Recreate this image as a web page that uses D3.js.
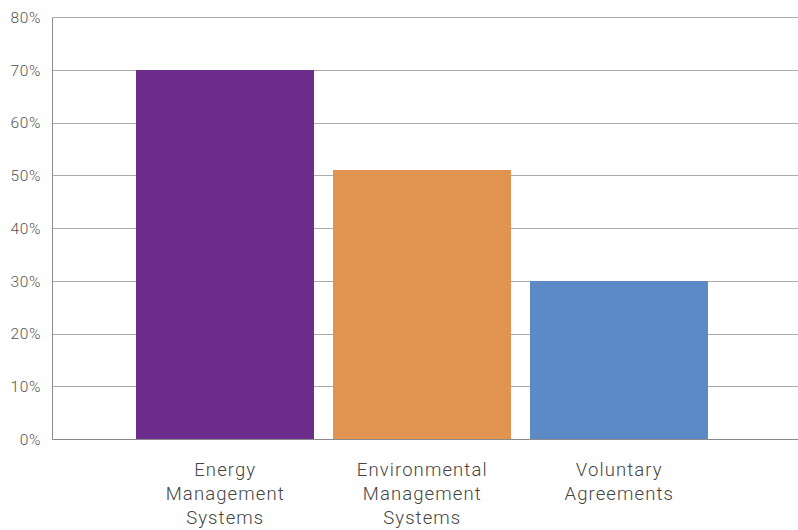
<!DOCTYPE html>
<html><head><meta charset="utf-8">
<script src="https://cdn.jsdelivr.net/npm/d3@7"></script>
<style>body{margin:0;background:#fff;}svg{display:block;font-family:Roboto,"DejaVu Sans",sans-serif;}</style>
</head><body><svg id="c" width="798" height="530"></svg>
<script>
const categories = [["Energy","Management","Systems"],["Environmental","Management","Systems"],["Voluntary","Agreements"]];
const values = [0.70, 0.51, 0.30];
const colors = ["#6c2c8c", "#e09450", "#5b8ac6"];
const tickValues = [0,0.1,0.2,0.3,0.4,0.5,0.6,0.7,0.8];

(function(){
const svg = d3.select("#c");
const pL = 52.5, pR = 798, pT = 17.5, pB = 439.5;
const keys = categories.map((d,i)=>i);
const x = d3.scaleBand().domain(keys).range([pL - 3, pR - 3]).paddingInner(0.096).paddingOuter(0.44);
const y = d3.scaleLinear().domain([0,0.8]).range([pB, pT]);

svg.append("g").selectAll("line").data(tickValues).join("line")
  .attr("x1", pL).attr("x2", pR)
  .attr("y1", d=>Math.floor(y(d))+0.5).attr("y2", d=>Math.floor(y(d))+0.5)
  .attr("stroke", "#ababab").attr("stroke-width", 1);

svg.append("g").selectAll("rect").data(values).join("rect")
  .attr("x", (d,i)=>Math.round(x(i))).attr("width", Math.round(x.bandwidth()))
  .attr("y", d=>Math.floor(y(d))).attr("height", d=>Math.floor(pB)-Math.floor(y(d)))
  .attr("fill", (d,i)=>colors[i]);

svg.append("line").attr("x1", pL).attr("x2", pR).attr("y1", pB).attr("y2", pB)
  .attr("stroke", "#8a8a8a").attr("stroke-width", 1);
svg.append("line").attr("x1", pL).attr("x2", pL).attr("y1", pT).attr("y2", pB)
  .attr("stroke", "#8a8a8a").attr("stroke-width", 1);

svg.append("g").selectAll("text").data(tickValues).join("text")
  .attr("x", 41).attr("y", d=>y(d)).attr("dy", "0.35em")
  .attr("text-anchor", "end").attr("fill", "#555").attr("font-size", 15.5).attr("font-weight", 300)
  .attr("letter-spacing", 0.6)
  .text(d=>d3.format(".0%")(d));

const lab = svg.append("g").selectAll("text").data(categories).join("text")
  .attr("text-anchor", "middle").attr("fill", "#444").attr("font-size", 18.5).attr("font-weight", 300)
  .attr("letter-spacing", 1.1)
  .attr("transform", (d,i)=>`translate(${x(i)+x.bandwidth()/2},476)`);
lab.selectAll("tspan").data(d=>d).join("tspan")
  .attr("x", 0).attr("y", (d,j)=>j*24).text(d=>d);
})();
</script></body></html>
